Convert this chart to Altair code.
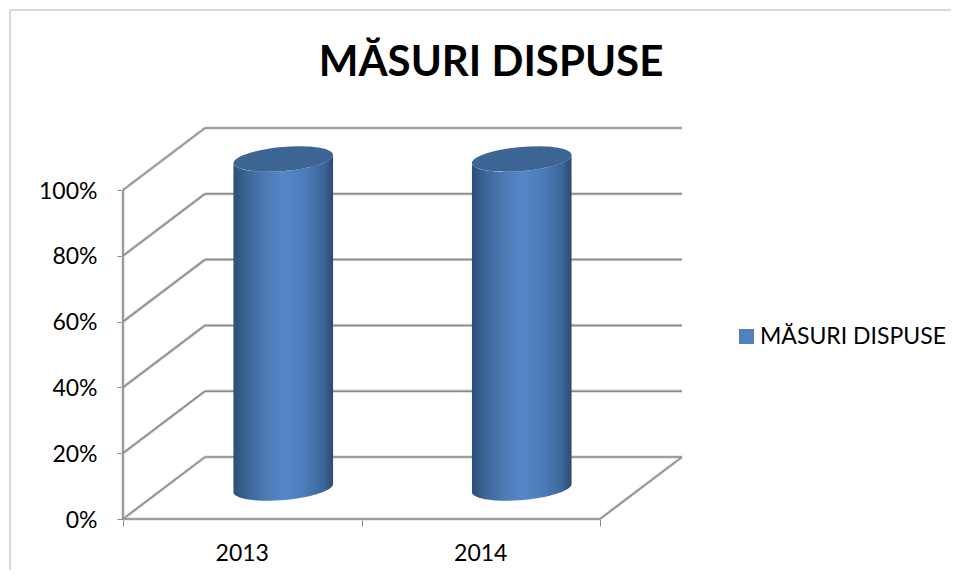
import numpy as np
import pandas as pd
import altair as alt

categories = ["2013", "2014"]
values = [1.0, 1.0]
y_ticks = [0, 0.2, 0.4, 0.6, 0.8, 1.0]
x_ticks = [0, 1, 2]
series_name = "MĂSURI DISPUSE"

# projection of the 3-D box: pixels per unit, and the depth of the box in data units
PX_X, PX_Y = 238.5, 329.0
DEPTH_X, DEPTH_Y = 82 / PX_X, 62 / PX_Y
R_A, R_B, TILT = 50.0, 12.0, np.radians(-5)
FONT = "Lato"
GREY = "#8a8a8a"

pos = pd.DataFrame({"cat": categories, "value": values})
pos["cx"] = np.arange(len(categories)) + 0.5 + DEPTH_X / 2
pos["base"] = DEPTH_Y / 2
pos["top"] = pos["value"] + DEPTH_Y / 2

# wireframe
segs = []
for v in y_ticks:
    segs.append(dict(x=0, x2=DEPTH_X, y=v, y2=v + DEPTH_Y))
    segs.append(dict(x=DEPTH_X, x2=2 + DEPTH_X, y=v + DEPTH_Y, y2=v + DEPTH_Y))
segs.append(dict(x=2, x2=2 + DEPTH_X, y=0, y2=DEPTH_Y))
segs.append(dict(x=0, x2=0, y=0, y2=1))
segs.append(dict(x=0, x2=2, y=0, y2=0))
segs = pd.DataFrame(segs)

xs = alt.Scale(domain=[0, 560 / PX_X], nice=False, zero=False)
ys = alt.Scale(domain=[0, 391 / PX_Y], nice=False, zero=False)
X = alt.X("x:Q", scale=xs, title=None,
          axis=alt.Axis(values=x_ticks, labels=False, grid=False, domain=False,
                        tickColor=GREY, tickSize=7, tickWidth=1))
Y = alt.Y("y:Q", scale=ys, title=None,
          axis=alt.Axis(values=y_ticks, format=".0%", grid=False, domain=False,
                        tickColor=GREY, tickSize=6, tickWidth=1, labelPadding=20,
                        labelOffset=1, labelFont=FONT, labelFontSize=23,
                        labelColor="#000000"))

halo = alt.Chart(segs).mark_rule(color="#d6d6d6", strokeWidth=3.2).encode(
    x=X, x2="x2:Q", y=Y, y2="y2:Q")
wire = alt.Chart(segs).mark_rule(color=GREY, strokeWidth=1.5).encode(
    x=X, x2="x2:Q", y=Y, y2="y2:Q")

# cylinder bodies: lower half of the end ellipses
rows = []
for _, r in pos.iterrows():
    for t in np.linspace(0, np.pi, 61):
        dx = R_A * np.cos(t) * np.cos(TILT) - R_B * np.sin(t) * np.sin(TILT)
        dy = R_A * np.cos(t) * np.sin(TILT) + R_B * np.sin(t) * np.cos(TILT)
        rows.append(dict(cat=r["cat"], x=r["cx"] + dx / PX_X,
                         y=r["base"] - dy / PX_Y, y2=r["top"] - dy / PX_Y))
body_df = pd.DataFrame(rows).sort_values(["cat", "x"])

grad = alt.Gradient(
    gradient="linear", x1=0, x2=1, y1=0, y2=0,
    stops=[
        alt.GradientStop(offset=0, color="#2C4E78"),
        alt.GradientStop(offset=0.12, color="#3A6395"),
        alt.GradientStop(offset=0.3, color="#4A78B2"),
        alt.GradientStop(offset=0.5, color="#5587C8"),
        alt.GradientStop(offset=0.72, color="#4C7CB8"),
        alt.GradientStop(offset=0.9, color="#3D6799"),
        alt.GradientStop(offset=1, color="#2C4B72"),
    ],
)
bodies = alt.Chart(body_df).mark_area(color=grad, interpolate="linear").encode(
    x=alt.X("x:Q", scale=xs), y=alt.Y("y:Q", scale=ys), y2="y2:Q", detail="cat:N")

c, s = np.cos(TILT), np.sin(TILT)
b = R_B / R_A
ell = (f"M {-c:.4f} {-s:.4f} A 1 {b:.3f} {np.degrees(TILT):.1f} 1 1 {c:.4f} {s:.4f} "
       f"A 1 {b:.3f} {np.degrees(TILT):.1f} 1 1 {-c:.4f} {-s:.4f} Z")
caps = alt.Chart(pos).mark_point(shape=ell, filled=True, fill="#3D6594",
                                 opacity=1, size=(2 * R_A) ** 2).encode(
    x=alt.X("cx:Q", scale=xs), y=alt.Y("top:Q", scale=ys))

labels_df = pd.DataFrame({"x": np.arange(len(categories)) + 0.5, "y": 0, "label": categories})
labels = alt.Chart(labels_df).mark_text(font=FONT, fontSize=23, color="#000000", dy=35,
                                        baseline="middle").encode(
    x=alt.X("x:Q", scale=xs), y=alt.Y("y:Q", scale=ys), text="label:N")

legend_df = pd.DataFrame({"x": [1], "y": [0], "series": [series_name]})
legend = alt.Chart(legend_df).mark_square(size=0).encode(
    x=alt.X("x:Q", scale=xs), y=alt.Y("y:Q", scale=ys),
    color=alt.Color("series:N", scale=alt.Scale(domain=[series_name], range=["#4F81BD"]),
                    legend=alt.Legend(title=None, orient="none", legendX=612, legendY=197,
                                      symbolType="square", symbolSize=225, symbolOpacity=1,
                                      symbolStrokeWidth=0, labelFont=FONT, labelFontSize=23,
                                      labelColor="#000000", labelLimit=300, labelOffset=2)))

frame_df = pd.DataFrame({"a": [0]})
frame_l = alt.Chart(frame_df).mark_rule(color="#B4B4B4", strokeWidth=1).encode(
    x=alt.value(-113), y=alt.value(-118), y2=alt.value(442))
frame_t = alt.Chart(frame_df).mark_rule(color="#B4B4B4", strokeWidth=1).encode(
    x=alt.value(-113), x2=alt.value(836), y=alt.value(-118))

chart = alt.layer(frame_l, frame_t, halo, wire, bodies, caps, labels, legend).properties(
    width=560, height=391,
    padding={"left": 115, "top": 120, "right": 268, "bottom": 51},
    autosize=alt.AutoSizeParams(type="none"),
    background="#ffffff",
    title=alt.TitleParams(series_name, font=FONT, fontSize=42, fontWeight="bold",
                          color="#000000", anchor="middle", frame="group", dx=88, offset=-75),
).configure_view(stroke=None)

chart.save("out.html", embed_options={"renderer": "svg", "actions": False})
